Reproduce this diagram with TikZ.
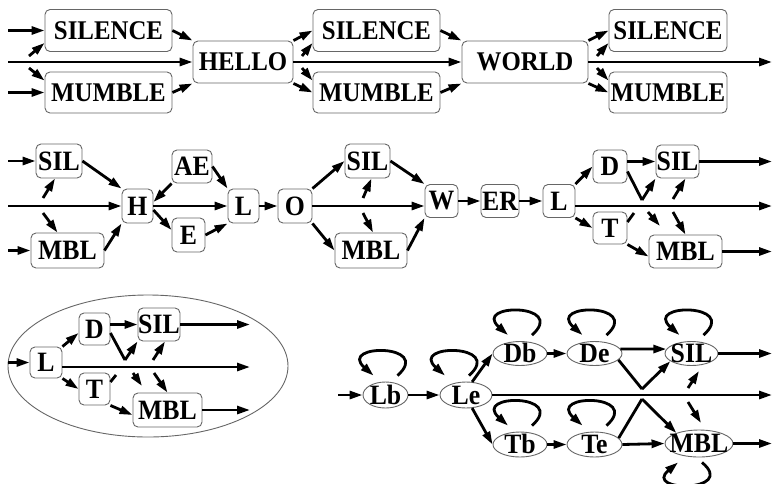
\documentclass[tikz,border=0pt]{standalone}
\usepackage{fontspec}
\setmainfont{Liberation Serif}[FakeStretch=0.92]
\usetikzlibrary{arrows.meta,shapes.geometric,calc}
% label of fixed-size ovals: takes no room, centred on the caps
\newcommand\ovallabel[1]{\smash{\raisebox{-0.33em}{\makebox[0pt]{#1}}}}
% thick self-loop above / below a node, arrow on the left foot
\newcommand\loopover[2]{%
  \draw[arr] ([xshift=#2+12pt,yshift=6pt]#1.north) .. controls +(36,-32) and +(-36,-32) .. ([xshift=#2-12pt,yshift=6pt]#1.north);}
\newcommand\loopunder[2]{%
  \draw[arr] ([xshift=#2+12pt,yshift=-5pt]#1.south) .. controls +(36,30) and +(-36,30) .. ([xshift=#2-12pt,yshift=-5pt]#1.south);}
\begin{document}
\begin{tikzpicture}[x=1pt,y=-1pt,
  font=\fontsize{28}{31}\selectfont\bfseries,
  box/.style={draw=black!60, line width=0.9pt, rounded corners=5pt, inner sep=0pt, fill=white},
  wordbox/.style={box, font=\fontsize{27}{30}\selectfont\bfseries},
  oval/.style={ellipse, draw=black!60, line width=0.9pt, inner sep=0pt, fill=white},
  arr/.style={line width=2.8pt, -{Triangle[length=13pt,width=8pt]}},
  ln/.style={line width=2.8pt},
  ]
\useasboundingbox (0,0) rectangle (773,483);

% ---------------- word level ----------------
\node[wordbox, minimum width=127pt, minimum height=42pt] (S1) at (108.5,30.5) {SILENCE};
\node[wordbox, minimum width=127pt, minimum height=41pt] (M1) at (108.5,92.5) {MUMBLE};
\node[wordbox, minimum width=100pt, minimum height=42pt] (HELLO) at (243,62) {HELLO};
\node[wordbox, minimum width=127pt, minimum height=42pt] (S2) at (376.5,30.5) {SILENCE};
\node[wordbox, minimum width=127pt, minimum height=41pt] (M2) at (376.5,92.5) {MUMBLE};
\node[wordbox, minimum width=126pt, minimum height=42pt] (WORLD) at (525,62) {WORLD};
\node[wordbox, minimum width=118pt, minimum height=42pt] (S3) at (668,30.5) {SILENCE};
\node[wordbox, minimum width=118pt, minimum height=41pt] (M3) at (668,92.5) {MUMBLE};

\coordinate (r1in) at (8,62);
\coordinate (r1a) at (8,30.5);
\coordinate (r1b) at (8,92.5);
\coordinate (r1out) at (772,62);
\coordinate (r1ju) at (29,56);
\coordinate (r1jd) at (29,68);
\coordinate (r1ku) at (302,56);
\coordinate (r1kd) at (302,68);
\coordinate (r1mu) at (597,56);
\coordinate (r1md) at (597,68);

\draw[arr] (r1a) -- (S1.west);
\draw[arr] (r1b) -- (M1.west);
\draw[arr] (r1in) -- (HELLO.west);
\draw[arr] (r1ju) -- ([yshift=9pt]S1.south west);
\draw[arr] (r1jd) -- ([yshift=-9pt]M1.north west);
\draw[arr] (S1.east) -- (HELLO.north west);
\draw[arr] (M1.east) -- (HELLO.south west);
\draw[arr] (HELLO.north east) -- (S2.west);
\draw[arr] (HELLO.south east) -- (M2.west);
\draw[arr] (r1ku) -- ([yshift=9pt]S2.south west);
\draw[arr] (r1kd) -- ([yshift=-9pt]M2.north west);
\draw[arr] (HELLO.east) -- (WORLD.west);
\draw[arr] (S2.east) -- (WORLD.north west);
\draw[arr] (M2.east) -- (WORLD.south west);
\draw[arr] (WORLD.north east) -- (S3.west);
\draw[arr] (WORLD.south east) -- (M3.west);
\draw[arr] (r1mu) -- ([yshift=9pt]S3.south west);
\draw[arr] (r1md) -- ([yshift=-9pt]M3.north west);
\draw[arr] (WORLD.east) -- (r1out);

% ---------------- phone level ----------------
\node[box, minimum width=46pt, minimum height=34pt] (SILa) at (59,161) {SIL};
\node[box, minimum width=73pt, minimum height=35pt] (MBLa) at (67.5,250.5) {MBL};
\node[box, minimum width=31pt, minimum height=34pt] (H) at (137.5,206) {H};
\node[box, minimum width=40pt, minimum height=33pt] (AE) at (192,166.5) {AE};
\node[box, minimum width=33pt, minimum height=34pt] (E) at (188.5,235) {E};
\node[box, minimum width=31pt, minimum height=34pt] (La) at (243.5,206) {L};
\node[box, minimum width=34pt, minimum height=34pt] (O) at (295,206) {O};
\node[box, minimum width=45pt, minimum height=34pt] (SILb) at (367.5,161) {SIL};
\node[box, minimum width=72pt, minimum height=35pt] (MBLb) at (371,250.5) {MBL};
\node[box, minimum width=33pt, minimum height=33pt] (W) at (441.5,201) {W};
\node[box, minimum width=38pt, minimum height=33pt] (ER) at (500,201) {ER};
\node[box, minimum width=32pt, minimum height=33pt] (Lc) at (559,201) {L};
\node[box, minimum width=34pt, minimum height=33pt] (D) at (610,166.5) {D};
\node[box, minimum width=43pt, minimum height=33pt] (SILc) at (677.5,161.5) {SIL};
\node[box, minimum width=34pt, minimum height=32pt] (T) at (610,228) {T};
\node[box, minimum width=73pt, minimum height=33pt] (MBLc) at (685.5,251.5) {MBL};

\coordinate (r2a) at (8,161);
\coordinate (r2b) at (8,250.5);
\coordinate (r2in) at (8,206);
\coordinate (r2ju) at (43,198);
\coordinate (r2jd) at (43,213);
\coordinate (r2ku) at (363,198);
\coordinate (r2kd) at (363,213);
\coordinate (r2out) at (772,206);
\coordinate (r2sil) at (772,161.5);
\coordinate (r2mbl) at (772,251.5);
\coordinate (r2v) at (642,200);
\coordinate (r2pu) at (673,199);
\coordinate (r2t) at (634,213);
\coordinate (r2d1) at (648,212);
\coordinate (r2d1e) at (660,226);
\coordinate (r2pd) at (673,212);

\draw[arr] (r2a) -- (SILa.west);
\draw[arr] (r2b) -- (MBLa.west);
\draw[arr] (r2in) -- (H.west);
\draw[arr] (r2ju) -- ([xshift=-4pt]SILa.south);
\draw[arr] (r2jd) -- ([xshift=-10pt]MBLa.north);
\draw[arr] (SILa.east) -- (H.north west);
\draw[arr] (MBLa.east) -- (H.south west);
\draw[arr] (AE.south west) -- ([yshift=4pt]H.east);
\draw[arr] ([yshift=-4pt]H.east) -- ([yshift=5pt]E.west);
\draw[arr] (H.east) -- (La.west);
\draw[arr] (AE.east) -- (La.north west);
\draw[arr] (E.east) -- (La.south west);
\draw[arr] (La.east) -- (O.west);
\draw[arr] (O.north east) -- (SILb.west);
\draw[arr] (O.south east) -- (MBLb.west);
\draw[arr] (O.east) -- ([yshift=-5pt]W.west);
\draw[arr] (r2ku) -- ([xshift=4pt]SILb.south);
\draw[arr] (r2kd) -- ([xshift=2pt]MBLb.north);
\draw[arr] (SILb.east) -- (W.north west);
\draw[arr] (MBLb.east) -- (W.south west);
\draw[arr] (W.east) -- (ER.west);
\draw[arr] (ER.east) -- (Lc.west);
\draw[arr] (Lc.north east) -- (D.west);
\draw[arr] (Lc.south east) -- (T.west);
\draw[arr] ([yshift=-5pt]Lc.east) -- (r2out);
\draw[arr] (D.east |- SILc.west) -- (SILc.west);
\draw[ln] ([yshift=-5pt]D.east) -- (r2v);
\draw[arr] (r2v) -- (SILc.south west);
\draw[arr] (r2pu) -- ([xshift=8pt]SILc.south);
\draw[ln] ([yshift=6pt]T.east) -- (r2t);
\draw[arr] (r2d1) -- (r2d1e);
\draw[arr] (r2pd) -- (MBLc.north);
\draw[arr] (SILc.east) -- (r2sil);
\draw[arr] (MBLc.east) -- (r2mbl);
\draw[arr] (T.south east) -- ([yshift=-5pt]MBLc.west);

% ---------------- the "L" of WORLD, expanded ----------------
\draw[black!60, line width=0.9pt] (148,366) ellipse [x radius=140pt, y radius=71pt];
\node[box, minimum width=32pt, minimum height=31pt] (Ld) at (46,362.5) {L};
\node[box, minimum width=31pt, minimum height=32pt] (Dd) at (94.5,329) {D};
\node[box, minimum width=42pt, minimum height=33pt] (SILd) at (159,324.5) {SIL};
\node[box, minimum width=31pt, minimum height=32pt] (Td) at (94.5,389) {T};
\node[box, minimum width=69pt, minimum height=34pt] (MBLd) at (167.5,410) {MBL};

\coordinate (r3in) at (8,362.5);
\coordinate (r3out) at (250,367);
\coordinate (r3sil) at (250,324.5);
\coordinate (r3mbl) at (250,410);
\coordinate (r3v) at (125,360);
\coordinate (r3pu) at (153,360);
\coordinate (r3t) at (116,375);
\coordinate (r3d1) at (133,373);
\coordinate (r3d1e) at (142,386);
\coordinate (r3pd) at (154,373);

\draw[arr] (r3in) -- (Ld.west);
\draw[arr] ([yshift=-4.5pt]Ld.east) -- (r3out);
\draw[arr] (Ld.north east) -- ([yshift=-4pt]Dd.west);
\draw[arr] (Ld.south east) -- (Td.west);
\draw[arr] (Dd.east |- SILd.west) -- (SILd.west);
\draw[ln] ([yshift=-4pt]Dd.east) -- (r3v);
\draw[arr] (r3v) -- (SILd.south west);
\draw[arr] (r3pu) -- ([xshift=6pt]SILd.south);
\draw[ln] ([yshift=7pt]Td.east) -- (r3t);
\draw[arr] (r3d1) -- (r3d1e);
\draw[arr] (r3pd) -- (MBLd.north);
\draw[arr] (SILd.east) -- (r3sil);
\draw[arr] (MBLd.east) -- (r3mbl);
\draw[arr] (Td.south east) -- ([yshift=-5pt]MBLd.west);

% ---------------- state level ----------------
\node[oval, minimum width=45pt, minimum height=26pt] (Lb) at (385.5,395) {\ovallabel{Lb}};
\node[oval, minimum width=52pt, minimum height=26pt] (Le) at (466,395) {\ovallabel{Le}};
\node[oval, minimum width=54pt, minimum height=24pt] (Db) at (520,353.5) {\ovallabel{Db}};
\node[oval, minimum width=55pt, minimum height=24pt] (De) at (594.5,353.5) {\ovallabel{De}};
\node[oval, minimum width=53pt, minimum height=24pt] (SILe) at (691.5,353.5) {\ovallabel{SIL}};
\node[oval, minimum width=54pt, minimum height=25pt] (Tb) at (520,444.5) {\ovallabel{Tb}};
\node[oval, minimum width=55pt, minimum height=25pt] (Te) at (594.5,444.5) {\ovallabel{Te}};
\node[oval, minimum width=68pt, minimum height=27pt] (MBLe) at (699,443.5) {\ovallabel{MBL}};

\coordinate (r4in) at (338,395);
\coordinate (r4out) at (772,395);
\coordinate (r4sil) at (772,353.5);
\coordinate (r4mbl) at (772,443.5);
\coordinate (r4v) at (642,389);
\coordinate (r4w) at (642,399);
\coordinate (r4pu) at (688,388);
\coordinate (r4pue) at (699,371);
\coordinate (r4pd) at (688,402);
\coordinate (r4pde) at (701,423);

\draw[arr] (r4in) -- (Lb.west);
\draw[arr] (Lb.east) -- (Le.west);
\draw[arr] (Le.65) -- (Db.west);
\draw[arr] (Le.-65) -- (Tb.west);
\draw[arr] (Db.east) -- (De.west);
\draw[arr] (Tb.east) -- (Te.west);
\draw[arr] (De.10) -- (SILe.170);
\draw[arr] (Te.east) -- (MBLe.west);
\draw[arr] (Le.east) -- (r4out);
\draw[arr] (SILe.east) -- (r4sil);
\draw[arr] (MBLe.east) -- (r4mbl);
\draw[ln] (De.-15) -- (r4v);
\draw[arr] (r4v) -- (SILe.200);
\draw[ln] (Te.15) -- (r4w);
\draw[arr] (r4w) -- (MBLe.155);
\draw[arr] (r4pu) -- (r4pue);
\draw[arr] (r4pd) -- (r4pde);

\loopover{Lb}{0pt}
\loopover{Le}{-9pt}
\loopover{Db}{0pt}
\loopover{De}{0pt}
\loopover{SILe}{0pt}
\loopover{Tb}{0pt}
\loopover{Te}{0pt}
\loopunder{MBLe}{-9pt}
\end{tikzpicture}
\end{document}
